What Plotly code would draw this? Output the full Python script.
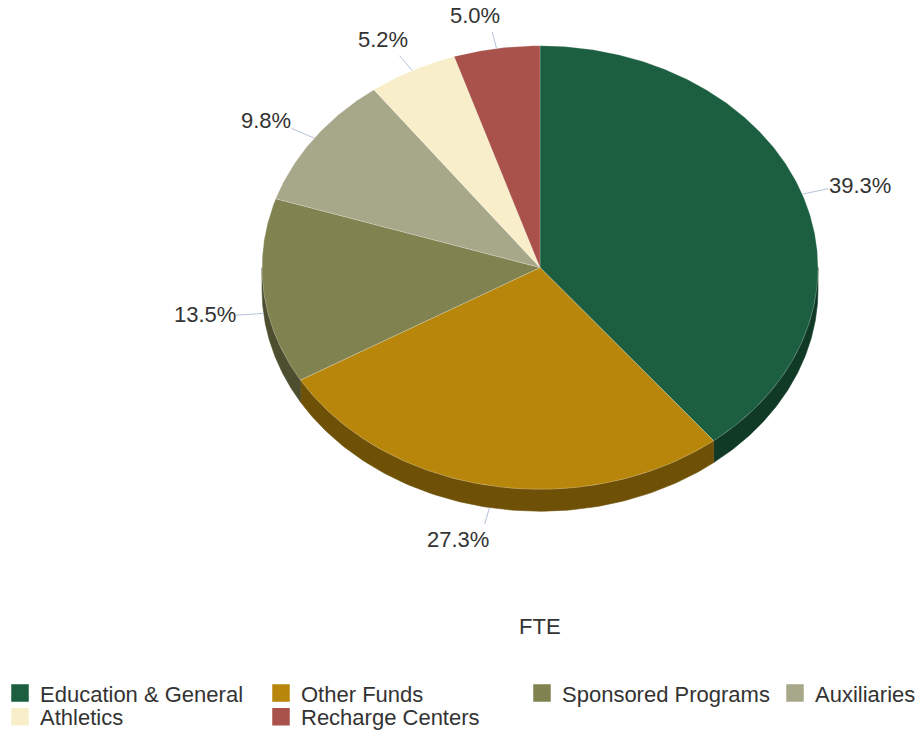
import numpy as np
import plotly.graph_objects as go

# ---- data ----
categories = ["Education & General", "Other Funds", "Sponsored Programs",
              "Auxiliaries", "Athletics", "Recharge Centers"]
fte_share = [39.3, 27.3, 13.5, 9.8, 5.2, 5.0]
colors = ["#1c5f40", "#b8860b", "#80834f", "#a7a889", "#f8efca", "#a9514b"]
chart_title = "FTE"

# ---- geometry (style) ----
W, H = 921, 738
CX, CY = 540, 269
RX, RY = 278, 223
DEPTH = 22
FONT = "Liberation Sans, Arial, sans-serif"
TXT = "#333333"


def darken(h, f=0.6):
    h = h.lstrip("#")
    r, g, b = (int(h[i:i + 2], 16) for i in (0, 2, 4))
    return "#%02x%02x%02x" % (int(r * f), int(g * f), int(b * f))


vals = np.array(fte_share, dtype=float)
fracs = vals / vals.sum()
ends = np.cumsum(fracs) * 2 * np.pi
starts = ends - fracs * 2 * np.pi


def pt(theta, dy=0.0):
    return CX + RX * np.sin(theta), CY - RY * np.cos(theta) + dy


fig = go.Figure()

# side walls (visible front half)
for i in range(len(categories)):
    a = max(starts[i], np.pi / 2)
    b = min(ends[i], 3 * np.pi / 2)
    if b > a:
        th = np.linspace(a, b, 120)
        xt, yt = pt(th)
        xb, yb = pt(th[::-1], DEPTH)
        fig.add_trace(go.Scatter(
            x=np.concatenate([xt, xb, xt[:1]]), y=np.concatenate([yt, yb, yt[:1]]),
            mode="lines", fill="toself", fillcolor=darken(colors[i]),
            line=dict(width=0.6, color=darken(colors[i])),
            hoverinfo="skip", showlegend=False))

# top faces
for i in range(len(categories)):
    th = np.linspace(starts[i], ends[i], max(8, int(fracs[i] * 720)))
    xs, ys = pt(th)
    fig.add_trace(go.Scatter(
        x=np.concatenate([[CX], xs, [CX]]), y=np.concatenate([[CY], ys, [CY]]),
        mode="lines", fill="toself", fillcolor=colors[i],
        line=dict(width=0.6, color="rgba(255,255,255,0.35)"),
        name=categories[i], hoverinfo="name", showlegend=False))

# leader lines + labels
lx, ly = [], []
L = 28
for i in range(len(categories)):
    mid = (starts[i] + ends[i]) / 2
    s, c = np.sin(mid), np.cos(mid)
    dy0 = DEPTH if c < 0 else 0
    x0, y0 = pt(mid, dy0)
    x1, y1 = x0 + L * s, y0 - L * c * 0.6
    lx += [x0, x1, None]
    ly += [y0, y1, None]
    pct = "%.1f%%" % (fracs[i] * 100)
    if s >= 0:
        xa, ya, yy, xx = "left", "middle", y1 - 3, x1 - 2
    elif abs(s) > 0.7:
        xa, ya, yy, xx = "right", "middle", y1 - 2 - 10 * c, x1 + 2
    elif c > 0:
        xa, ya, yy, xx = "right", "bottom", y1 - 2, x1 + 10
    else:
        xa, ya, yy, xx = "right", "top", y1 + 1, x1 + 6
    fig.add_annotation(x=xx, y=yy, text=pct, showarrow=False, xanchor=xa, yanchor=ya,
                       font=dict(size=22, color=TXT, family=FONT))

fig.add_trace(go.Scatter(x=lx, y=ly, mode="lines", line=dict(color="#b4c2d9", width=1),
                         hoverinfo="skip", showlegend=False))

fig.add_annotation(x=CX, y=630, text=chart_title, showarrow=False, xanchor="center",
                   yanchor="middle", font=dict(size=22, color=TXT, family=FONT))

# legend entries: row 1 (first three), row 1 last column, row 2
legend_of = ["legend", "legend", "legend", "legend3", "legend2", "legend2"]
for i, cat in enumerate(categories):
    fig.add_trace(go.Scatter(
        x=[None], y=[None], mode="markers", name=cat,
        marker=dict(symbol="square", size=16, color=colors[i], line=dict(width=1.5, color=colors[i])),
        legend=legend_of[i]))

leg_common = dict(orientation="h", yanchor="middle",
                  font=dict(size=22, color=TXT, family=FONT), bgcolor="rgba(0,0,0,0)",
                  itemclick=False, itemdoubleclick=False)

fig.update_layout(
    width=W, height=H, margin=dict(l=0, r=0, t=0, b=0),
    paper_bgcolor="white", plot_bgcolor="white",
    xaxis=dict(range=[0, W], visible=False, fixedrange=True),
    yaxis=dict(range=[H, 0], visible=False, fixedrange=True),
    legend=dict(x=0, xanchor="left", y=1 - 697 / H, entrywidth=216, entrywidthmode="pixels", **leg_common),
    legend3=dict(x=1, xanchor="right", y=1 - 697 / H, **leg_common),
    legend2=dict(x=0, xanchor="left", y=1 - 721 / H, entrywidth=216, entrywidthmode="pixels", **leg_common),
    showlegend=True,
)

fig.write_html("out.html", config={"displayModeBar": False},
               post_script="document.body.style.margin='0';document.documentElement.style.overflow='hidden';")
